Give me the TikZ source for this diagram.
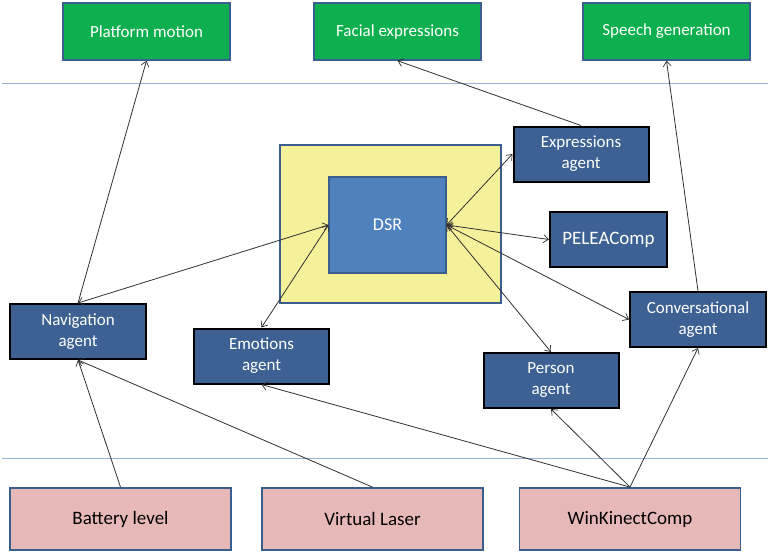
\documentclass[tikz,border=0pt]{standalone}
\usepackage{fontspec}
\setmainfont{Carlito}
\usetikzlibrary{arrows.meta}
\definecolor{outgreen}{HTML}{0EAF4F}
\definecolor{boxedge}{HTML}{3A5F8E}
\definecolor{agentblue}{HTML}{3D6192}
\definecolor{dsrblue}{HTML}{4F81BD}
\definecolor{dsryellow}{HTML}{F5F09A}
\definecolor{inpink}{HTML}{E6B9B8}
\definecolor{sepline}{HTML}{95B3D7}
\definecolor{linkgray}{HTML}{303030}
\tikzset{
  outbox/.style={draw=boxedge, line width=1.5pt, fill=outgreen, text=white,
    minimum width=167pt, minimum height=57pt, inner sep=0pt,
    font=\fontsize{17}{21}\selectfont},
  agentbox/.style={draw=black, line width=2pt, fill=agentblue, text=white,
    minimum width=135pt, minimum height=55pt, inner sep=0pt, align=center,
    font=\fontsize{17}{21}\selectfont},
  inbox/.style={draw=boxedge, line width=1.8pt, fill=inpink, text=black,
    minimum width=221pt, minimum height=62pt, inner sep=0pt,
    font=\fontsize{19}{23}\selectfont},
  link/.style={draw=linkgray, line width=0.8pt,
    -{Straight Barb[length=5pt,width=8pt,line width=0.7pt]}},
  biLink/.style={link, {Straight Barb[length=5pt,width=8pt,line width=0.7pt]}-{Straight Barb[length=5pt,width=8pt,line width=0.7pt]}},
  sep/.style={draw=sepline, line width=1pt}
}
\begin{document}
\begin{tikzpicture}[x=1pt,y=-1pt]
\useasboundingbox (0,0) rectangle (768,554);

% separators between the layers
\coordinate (topL) at (2,83);
\coordinate (topR) at (768,83);
\coordinate (botL) at (2,458);
\coordinate (botR) at (768,458);
\draw[sep] (topL) -- (topR);
\draw[sep] (botL) -- (botR);

% output layer
\node[outbox] (plat)   at (146.5,31.5) {Platform motion};
\node[outbox] (face)   at (397.5,31.5) {Facial expressions};
\node[outbox] (speech) at (666.5,31.5) {Speech generation};

% shared representation
\node[draw=boxedge, line width=1.5pt, fill=dsryellow, minimum width=221pt,
  minimum height=158pt, inner sep=0pt] (frame) at (390.5,224) {};
\node[draw=boxedge, line width=1.2pt, fill=dsrblue, text=white,
  minimum width=117pt, minimum height=96pt, inner sep=0pt,
  font=\fontsize{18}{22}\selectfont] (dsr) at (387.5,225) {DSR};

% agents
\node[agentbox] (expr) at (581,154)   {Expressions\\agent};
\node[agentbox, minimum width=117pt, font=\fontsize{19}{23}\selectfont] (pelea) at (608.5,239.5) {PELEAComp};
\node[agentbox, minimum width=136pt] (conv) at (698,319.5) {Conversational\\agent};
\node[agentbox, minimum width=136pt] (nav)  at (78,331.5)  {Navigation\\agent};
\node[agentbox] (emo)  at (261.5,356) {Emotions\\agent};
\node[agentbox] (pers) at (551,380.5) {Person\\agent};

% input layer
\node[inbox] (bat) at (120.5,519) {Battery level};
\node[inbox] (vl)  at (372.5,519) {Virtual Laser};
\node[inbox] (wk)  at (630,519)   {WinKinectComp};

% agents driving the outputs
\draw[link] (nav.north) -- (plat.south);
\draw[link] (expr.north) -- (face.south);
\draw[link] (conv.north) -- (speech.south);

% agents sharing the DSR
\draw[biLink] (nav.north) -- (dsr.west);
\draw[biLink] (emo.north) -- (dsr.west);
\draw[biLink] (dsr.east) -- (expr.west);
\draw[biLink] (dsr.east) -- (pelea.west);
\draw[biLink] (dsr.east) -- (conv.west);
\draw[biLink] (dsr.east) -- (pers.north);

% inputs feeding the agents
\draw[link] (bat.north) -- (nav.south);
\draw[link] (vl.north) -- (nav.south);
\draw[link] (wk.north) -- (emo.south);
\draw[link] (wk.north) -- (pers.south);
\draw[link] (wk.north) -- (conv.south);
\end{tikzpicture}
\end{document}
